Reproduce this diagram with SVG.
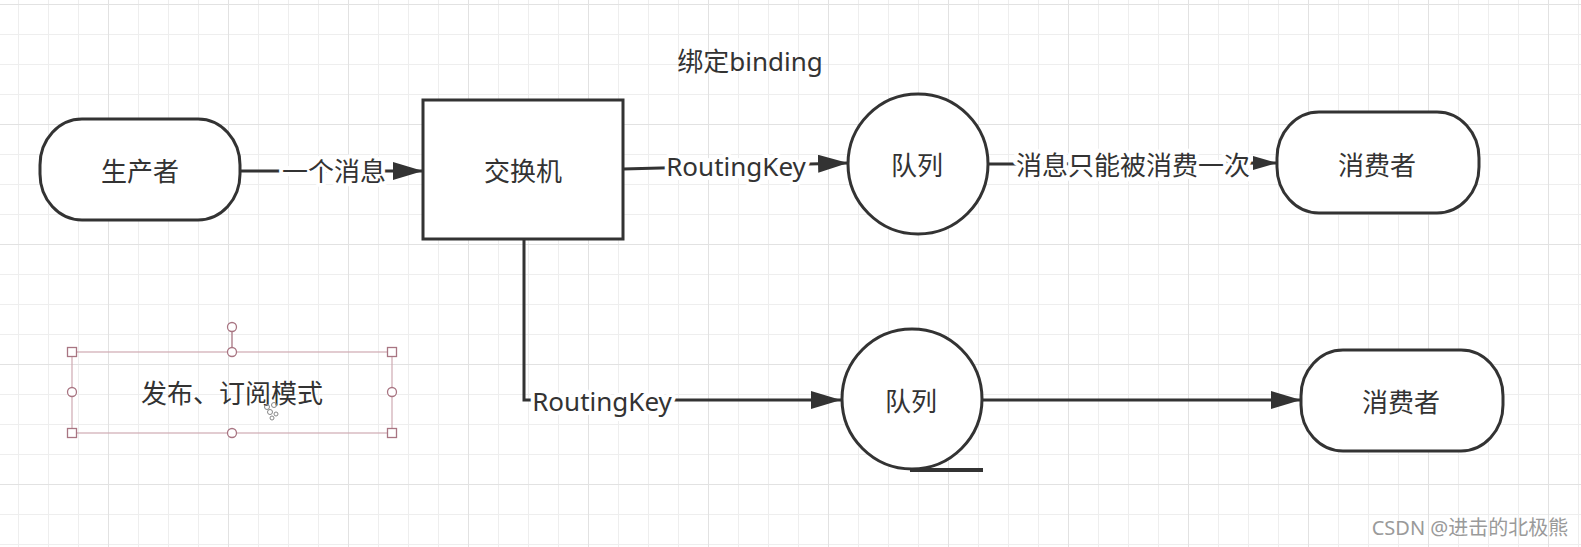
<svg xmlns="http://www.w3.org/2000/svg" width="1581" height="547" viewBox="0 0 1581 547">
<style>
.t{font-family:"Noto Sans","Noto Sans CJK SC",sans-serif;font-size:26px;fill:#333;text-anchor:middle;dominant-baseline:central}
.lbl{paint-order:stroke;stroke:#fff;stroke-width:8px;stroke-linejoin:round}
.shape{fill:#fff;stroke:#333;stroke-width:3}
.conn{fill:none;stroke:#333;stroke-width:3}
.minor{stroke:#eeeeee;stroke-width:1}
.major{stroke:#e2e2e2;stroke-width:1}
.sel{fill:none;stroke:#cfaab2;stroke-width:1.2}
.h{fill:#fff;stroke:#a87582;stroke-width:1.3}
</style>
<defs>
<marker id="arr" markerUnits="userSpaceOnUse" markerWidth="32" markerHeight="20" refX="30" refY="9" orient="auto">
<path d="M0,0 L30,9 L0,18 z" fill="#333"/>
</marker>
<marker id="arrS" markerUnits="userSpaceOnUse" markerWidth="26" markerHeight="16" refX="24" refY="7" orient="auto">
<path d="M0,0 L24,7 L0,14 z" fill="#333"/>
</marker>
<pattern id="gridMinor" width="30" height="30" patternUnits="userSpaceOnUse" x="18" y="4">
<path d="M0.5,0 V30 M0,0.5 H30" class="minor"/>
</pattern>
<pattern id="gridMajor" width="120" height="120" patternUnits="userSpaceOnUse" x="108" y="4">
<path d="M0.5,0 V120 M0,0.5 H120" class="major"/>
</pattern>
</defs>
<rect width="1581" height="547" fill="#fff"/>
<rect width="1581" height="547" fill="url(#gridMinor)"/>
<rect width="1581" height="547" fill="url(#gridMajor)"/>

<g id="connectors">
<path class="conn" d="M240,171 L423,171" marker-end="url(#arr)"/>
<path class="conn" d="M623,169 L848,163" marker-end="url(#arr)"/>
<path class="conn" d="M988,164 L1277,163" marker-end="url(#arrS)"/>
<path class="conn" d="M524,239 L524,400 L841,400" marker-end="url(#arr)"/>
<path class="conn" d="M983,400 L1301,400" marker-end="url(#arr)"/>
<text class="t lbl" x="334" y="171">一个消息</text>
<text class="t lbl" x="736" y="166">RoutingKey</text>
<text class="t lbl" x="1133" y="165">消息只能被消费一次</text>
<text class="t lbl" x="602" y="401">RoutingKey</text>
</g>

<g id="producer">
<rect class="shape" x="40" y="119" width="200" height="101" rx="42" ry="46"/>
<text class="t" x="140" y="171">生产者</text>
</g>

<g id="exchange">
<rect class="shape" x="423" y="100" width="200" height="139"/>
<text class="t" x="523" y="171">交换机</text>
</g>

<g id="binding-label">
<text class="t" x="750" y="61">绑定binding</text>
</g>

<g id="queue1">
<circle class="shape" cx="918" cy="164" r="70"/>
<text class="t" x="917" y="165">队列</text>
</g>

<g id="consumer1">
<rect class="shape" x="1277" y="112" width="202" height="101" rx="42" ry="46"/>
<text class="t" x="1377" y="165">消费者</text>
</g>

<g id="queue2">
<circle class="shape" cx="912" cy="399" r="70"/>
<path d="M910,470 L983,470" fill="none" stroke="#333" stroke-width="4"/>
<text class="t" x="911" y="401">队列</text>
</g>

<g id="consumer2">
<rect class="shape" x="1301" y="350" width="202" height="101" rx="42" ry="46"/>
<text class="t" x="1401" y="402">消费者</text>
</g>

<g id="mode-label">
<rect class="sel" x="72" y="352" width="320" height="81"/>
<line x1="232" y1="331" x2="232" y2="348" stroke="#a87582" stroke-width="1.3"/>
<circle class="h" cx="232" cy="327" r="4.5"/>
<rect class="h" x="67.5" y="347.5" width="9" height="9"/>
<rect class="h" x="387.5" y="347.5" width="9" height="9"/>
<rect class="h" x="67.5" y="428.5" width="9" height="9"/>
<rect class="h" x="387.5" y="428.5" width="9" height="9"/>
<circle class="h" cx="232" cy="352" r="4.5"/>
<circle class="h" cx="232" cy="433" r="4.5"/>
<circle class="h" cx="72" cy="392" r="4.5"/>
<circle class="h" cx="392" cy="392" r="4.5"/>
<text class="t" x="232" y="393">发布、订阅模式</text>
<g fill="none" stroke="#888" stroke-width="1">
<circle cx="267" cy="407" r="2.5"/>
<circle cx="274" cy="405" r="2.5"/>
<circle cx="270" cy="412" r="2.5"/>
<circle cx="276" cy="414" r="2"/>
<circle cx="272" cy="418" r="2"/>
</g>
</g>

<g id="watermark">
<text x="1470" y="527" style="font-family:'Noto Sans','Noto Sans CJK SC',sans-serif;font-size:20px;fill:#9a9a9a;text-anchor:middle;dominant-baseline:central">CSDN @进击的北极熊</text>
</g>
</svg>
